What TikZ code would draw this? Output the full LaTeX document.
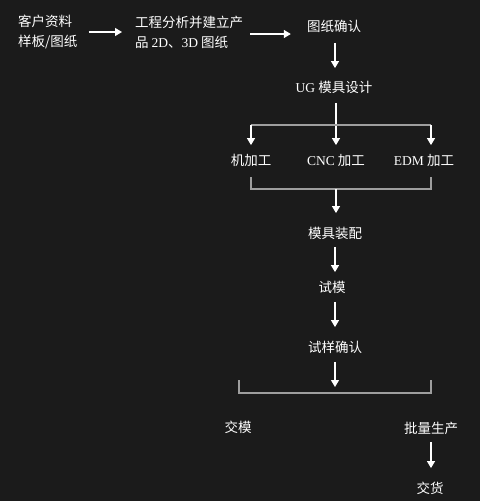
\documentclass[tikz,border=0pt]{standalone}
\usepackage{fontspec}
\setmainfont{Liberation Serif}
\newfontfamily\cjk{Noto Sans CJK SC}
\usetikzlibrary{arrows.meta}
\definecolor{bgc}{HTML}{1B1B1B}
\definecolor{brkc}{HTML}{9E9E9E}
\begin{document}
\begin{tikzpicture}[x=1pt,y=-1pt,
  lbl/.style={text=white,inner sep=0pt,font=\cjk\fontsize{13.5}{20}\selectfont},
  one/.style={lbl,text height=11.5pt,text depth=2pt},
  arr/.style={draw=white,line width=1.3pt,-{Triangle[width=8pt,length=7pt]}},
  brk/.style={draw=brkc,line width=1.8pt}]
\fill[bgc] (0,0) rectangle (480,501);
% top row
\node[lbl,anchor=west,align=left] (src) at (18,32) {客户资料\\样板/图纸};
\node[lbl,anchor=west,align=left] (eng) at (135,32.5) {工程分析并建立产\\品 {\rmfamily 2D}、{\rmfamily 3D} 图纸};
\node[one] (cf) at (334,27) {图纸确认};
\node[one] (ug) at (334,88) {{\rmfamily UG} 模具设计};
% machining row
\node[one] (mach) at (251,161) {机加工};
\node[one] (cnc) at (336,161) {{\rmfamily CNC} 加工};
\node[one] (edm) at (424,161) {{\rmfamily EDM} 加工};
% middle column
\node[one] (asm) at (335,234) {模具装配};
\node[one] (tm) at (332,288) {试模};
\node[one] (cf2) at (335,348) {试样确认};
% bottom
\node[one] (jm) at (238,428) {交模};
\node[one] (pl) at (431,429) {批量生产};
\node[one] (jh) at (430,489) {交货};
% bracket coordinates
\coordinate (f1l) at (251,125);
\coordinate (f1r) at (431,125);
\coordinate (j1l) at (251,177);
\coordinate (j1r) at (431,177);
\coordinate (j1c) at (336,189);
\coordinate (f2c) at (335,393);
\coordinate (f2l) at (239,393);
\coordinate (f2r) at (431,393);
% horizontal arrows
\draw[arr,shorten <=11pt,shorten >=13pt] (src.east) -- (src.east -| eng.west);
\draw[arr,shorten <=7pt,shorten >=16pt] ([yshift=-1.5pt]eng.east) -- ([yshift=-1.5pt]eng.east -| cf.west);
% vertical arrows
\draw[arr,shorten <=9pt,shorten >=13pt] ([xshift=1pt]cf.south) -- ([xshift=1pt]cf.south |- ug.north);
\draw[arr,shorten <=8pt,shorten >=9pt] ([xshift=2pt]ug.south) -- ([xshift=2pt]ug.south |- cnc.north);
% fork 1
\draw[brk] (f1l) -- (f1r);
\draw[arr,shorten >=9pt] (f1l) -- (f1l |- mach.north);
\draw[arr,shorten >=9pt] (f1r) -- (f1r |- edm.north);
% join 1
\draw[brk] (j1l) |- (j1c) -| (j1r);
\draw[arr,shorten >=14pt] (j1c) -- (j1c |- asm.north);
\draw[arr,shorten <=6pt,shorten >=9pt] (asm.south) -- (asm.south |- tm.north);
\draw[arr,shorten <=7pt,shorten >=14pt] (asm.south |- tm.south) -- (asm.south |- cf2.north);
% fork 2
\draw[arr,shorten <=7pt,shorten >=6pt] (cf2.south) -- (f2c);
\draw[brk] ([yshift=13pt]f2l) |- (f2r) -- ([yshift=13pt]f2r);
\draw[arr,shorten <=6pt,shorten >=14pt] (pl.south) -- (pl.south |- jh.north);
\end{tikzpicture}
\end{document}
